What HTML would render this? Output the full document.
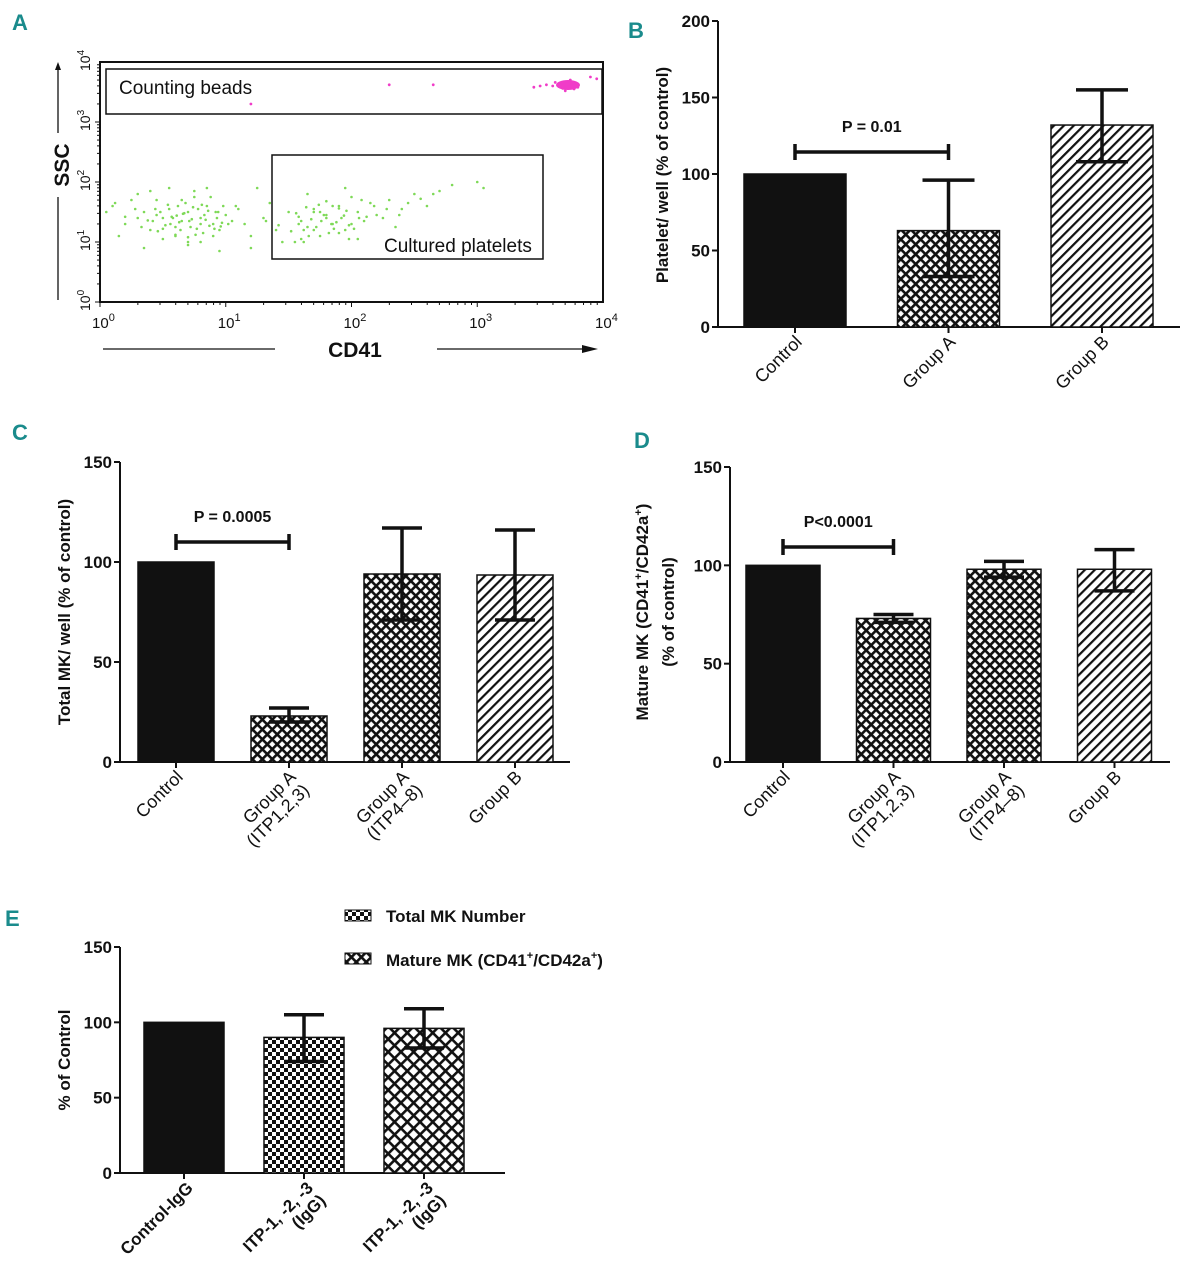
<!DOCTYPE html>
<html><head><meta charset="utf-8"><style>
html,body{margin:0;padding:0;background:#fff}
svg{display:block;font-family:"Liberation Sans",Arial,sans-serif}
</style></head><body>
<svg id="fig" width="1186" height="1280" viewBox="0 0 1186 1280">
<defs>
<pattern id="cross" width="7" height="7" patternUnits="userSpaceOnUse" patternTransform="rotate(45)">
<rect width="7" height="7" fill="#fff"/><rect width="7" height="2.6" fill="#111"/><rect width="2.6" height="7" fill="#111"/></pattern>
<pattern id="diag" width="7" height="7" patternUnits="userSpaceOnUse" patternTransform="rotate(-45)">
<rect width="7" height="7" fill="#fff"/><rect width="7" height="2.2" fill="#111"/></pattern>
<pattern id="check" width="8" height="8" patternUnits="userSpaceOnUse">
<rect width="8" height="8" fill="#fff"/><rect width="4" height="4" fill="#111"/><rect x="4" y="4" width="4" height="4" fill="#111"/></pattern>
<pattern id="cross2" width="9" height="9" patternUnits="userSpaceOnUse" patternTransform="rotate(45)">
<rect width="9" height="9" fill="#fff"/><rect width="9" height="2.6" fill="#111"/><rect width="2.6" height="9" fill="#111"/></pattern>
</defs>
<g id="root"></g>
</svg>
<script>
// Panel A data (log10 units)
const greenX=[0.1,0.2,0.3,0.35,0.4,0.45,0.5,0.55,0.6,0.62,0.65,0.7,0.72,0.75,0.8,0.82,0.85,0.9,0.92,0.95,1.0,1.05,1.1,0.5,0.6,0.7,0.8,0.9,0.55,0.65,0.75,0.85,0.45,0.58,0.68,0.78,0.88,0.98,1.15,1.2,1.3,1.35,1.4,1.5,1.55,1.6,1.65,1.7,1.75,1.8,1.85,1.9,1.95,2.0,2.05,2.1,2.15,2.2,2.3,2.4,2.5,2.6,2.7,2.8,1.6,1.7,1.8,1.9,2.0,1.75,1.85,1.95,2.05,1.65,0.05,0.15,0.25,0.3,0.4,1.25,1.45,2.25,2.35,2.45,3.0,3.05,1.2,0.35,0.7,0.95,
0.42,0.48,0.52,0.57,0.63,0.67,0.73,0.77,0.83,0.87,0.93,0.97,0.44,0.54,0.64,0.74,0.84,0.94,0.46,0.56,0.66,0.76,0.86,0.96,0.38,0.61,0.71,0.81,0.91,1.02,1.08,0.2,0.28,0.12,0.33,
1.58,1.62,1.68,1.72,1.78,1.82,1.88,1.92,1.98,2.02,1.56,1.66,1.76,1.86,1.96,2.06,1.64,1.74,1.84,1.94,1.52,1.98,2.12,2.18,2.28,2.38,1.42,1.32,1.62,1.7,1.8,1.9,2.08,1.58,2.55,2.65,0.6,0.7,0.8,0.5];
const greenY=[1.6,1.3,1.8,1.5,1.2,1.7,1.4,1.9,1.1,1.6,1.35,1.5,1.25,1.75,1.4,1.15,1.6,1.3,1.5,1.2,1.45,1.35,1.55,1.05,1.25,1.0,1.3,1.1,1.55,1.7,1.85,1.9,1.45,1.4,1.65,1.55,1.75,1.6,1.3,1.1,1.4,1.65,1.2,1.5,1.0,1.35,1.25,1.55,1.1,1.45,1.3,1.6,1.2,1.75,1.5,1.35,1.65,1.45,1.7,1.55,1.8,1.6,1.85,1.95,1.05,1.2,1.4,1.15,1.3,1.5,1.6,1.9,1.05,1.8,1.5,1.1,1.7,1.4,1.85,1.9,1.0,1.4,1.25,1.65,2.0,1.9,0.9,0.9,0.95,0.85,
1.35,1.5,1.28,1.42,1.33,1.48,1.38,1.22,1.45,1.27,1.4,1.32,1.55,1.62,1.2,1.58,1.37,1.5,1.18,1.3,1.47,1.12,1.52,1.26,1.36,1.44,1.35,1.62,1.22,1.3,1.6,1.42,1.55,1.65,1.25,
1.3,1.2,1.38,1.25,1.45,1.15,1.33,1.4,1.28,1.22,1.48,1.1,1.35,1.22,1.52,1.4,1.58,1.62,1.3,1.44,1.18,1.05,1.42,1.6,1.55,1.45,1.28,1.35,1.0,1.5,1.68,1.56,1.7,1.42,1.72,1.8,1.12,1.08,1.0,1.22];
const pinkX=[3.55,3.6,3.65,3.7,3.72,3.75,3.78,3.8,3.68,3.62,3.74,3.77,3.7,3.5,3.45,3.9,3.95,2.3,2.65,1.2];
const pinkY=[3.62,3.6,3.64,3.66,3.6,3.62,3.65,3.58,3.56,3.66,3.7,3.55,3.52,3.6,3.58,3.75,3.72,3.62,3.62,3.3];
const aTicks=["10","10","10","10","10"];
const aExp=["0","1","2","3","4"];
// Panel B
const bCats=[["Control"],["Group A"],["Group B"]];
const bVals=[100,63,132];
const bLo=[null,33,108];
const bHi=[null,96,155];
const bTicks=[0,50,100,150,200];
// Panel C
const cCats=[["Control"],["Group A","(ITP1,2,3)"],["Group A","(ITP4\u20138)"],["Group B"]];
const cVals=[100,23,94,93.5];
const cLo=[null,20,71,71];
const cHi=[null,27,117,116];
const cTicks=[0,50,100,150];
// Panel D
const dCats=[["Control"],["Group A","(ITP1,2,3)"],["Group A","(ITP4\u20138)"],["Group B"]];
const dVals=[100,73,98,98];
const dLo=[null,71,94,87];
const dHi=[null,75,102,108];
const dTicks=[0,50,100,150];
// Panel E
const eCats=[["Control-IgG"],["ITP-1, -2, -3","(IgG)"],["ITP-1, -2, -3","(IgG)"]];
const eVals=[100,90,96];
const eLo=[null,74,83];
const eHi=[null,105,109];
const eTicks=[0,50,100,150];

const NS="http://www.w3.org/2000/svg";
const root=document.getElementById('root');
function mk(tag,attrs,parent,txt){const e=document.createElementNS(NS,tag);for(const k in attrs)e.setAttribute(k,attrs[k]);if(txt!==undefined)e.textContent=txt;(parent||root).appendChild(e);return e;}

[["A",12,30],["B",628,38],["C",12,440],["D",634,448],["E",5,926]].forEach(l=>{
 const t=mk('text',{x:l[1],y:l[2],'font-size':22,'font-weight':'bold',fill:'#1a8b8c'},root,l[0]);
 
 
});

// ---- Panel A ----
const ga=mk('g',{});


const ax0=100,ax1=603,ay0=302,ay1=62;
const lx=v=>ax0+(ax1-ax0)*v/4, ly=v=>ay0-(ay0-ay1)*v/4;
mk('rect',{x:ax0,y:ay1,width:ax1-ax0,height:ay0-ay1,fill:'none',stroke:'#111','stroke-width':2},ga);
for(let d=0;d<4;d++)for(let m=1;m<10;m++){const v=d+Math.log10(m);
 mk('line',{x1:lx(v),x2:lx(v),y1:ay0,y2:ay0+(m==1?5:3),stroke:'#111'},ga);
 mk('line',{x1:ax0,x2:ax0-(m==1?5:3),y1:ly(v),y2:ly(v),stroke:'#111'},ga);}
aTicks.forEach((t,i)=>{
 const tx=mk('text',{x:lx(i)-8,y:ay0+26,'font-size':15,fill:'#111'},ga,t);
 mk('tspan',{dy:-7,'font-size':11},tx,aExp[i]);
 const ty=mk('text',{transform:`translate(${ax0-10},${ly(i)+9}) rotate(-90)`,'font-size':14,fill:'#111'},ga,t);
 mk('tspan',{dy:-6,'font-size':10},ty,aExp[i]);
});
greenX.forEach((x,i)=>{const c=mk('circle',{cx:lx(x),cy:ly(greenY[i]),r:1.3,fill:'#7ed957'},ga);
 });
pinkX.forEach((x,i)=>{const c=mk('circle',{cx:lx(x),cy:ly(pinkY[i]),r:1.4,fill:'#f03cc8'},ga);
 });
mk('ellipse',{cx:568,cy:85,rx:12,ry:5,fill:'#f03cc8'},ga);
const g1=mk('rect',{x:106,y:69,width:496,height:45,fill:'none',stroke:'#111','stroke-width':1.5},ga);

mk('text',{x:119,y:94,'font-size':19,fill:'#111'},ga,'Counting beads');
const g2=mk('rect',{x:272,y:155,width:271,height:104,fill:'none',stroke:'#111','stroke-width':1.5},ga);

mk('text',{x:384,y:252,'font-size':19,fill:'#111'},ga,'Cultured platelets');
mk('text',{x:355,y:357,'font-size':21,'font-weight':'bold','text-anchor':'middle',fill:'#111'},ga,'CD41');
mk('line',{x1:103,x2:275,y1:349,y2:349,stroke:'#111','stroke-width':1.3},ga);
mk('line',{x1:437,x2:590,y1:349,y2:349,stroke:'#111','stroke-width':1.3},ga);
mk('polygon',{points:'582,345 598,349 582,353',fill:'#111'},ga);
mk('text',{transform:'translate(69,165) rotate(-90)','font-size':21,'font-weight':'bold','text-anchor':'middle',fill:'#111'},ga,'SSC');
mk('line',{x1:58,x2:58,y1:300,y2:197,stroke:'#111','stroke-width':1.3},ga);
mk('line',{x1:58,x2:58,y1:133,y2:68,stroke:'#111','stroke-width':1.3},ga);
mk('polygon',{points:'55,70 58,62 61,70',fill:'#111'},ga);

function barPanel(o){
 const g=mk('g',{});
 
 
 const sy=v=>o.y0-(o.y0-o.yTop)*v/o.max;
 mk('line',{x1:o.ax,x2:o.ax,y1:o.y0,y2:o.yTop,stroke:'#111','stroke-width':2},g);
 mk('line',{x1:o.ax,x2:o.xEnd,y1:o.y0,y2:o.y0,stroke:'#111','stroke-width':2},g);
 o.ticks.forEach(t=>{
  mk('line',{x1:o.ax-6,x2:o.ax,y1:sy(t),y2:sy(t),stroke:'#111','stroke-width':2},g);
  const tl=mk('text',{x:o.ax-8,y:sy(t)+6,'font-size':17,'font-weight':'bold','text-anchor':'end',fill:'#111'},g,String(t));
  
 });
 o.vals.forEach((v,i)=>{
  const cx=o.x0+i*o.step;
  const b=mk('rect',{x:cx-o.bw/2,y:sy(v),width:o.bw,height:o.y0-sy(v),fill:o.fills[i],stroke:'#111','stroke-width':1.5},g);
  
  
  if(o.lo[i]!=null){
   mk('line',{x1:cx,x2:cx,y1:sy(o.hi[i]),y2:sy(o.lo[i]),stroke:'#111','stroke-width':3.5},g);
   mk('line',{x1:cx-o.cap,x2:cx+o.cap,y1:sy(o.hi[i]),y2:sy(o.hi[i]),stroke:'#111','stroke-width':3.5},g);
   mk('line',{x1:cx-o.cap,x2:cx+o.cap,y1:sy(o.lo[i]),y2:sy(o.lo[i]),stroke:'#111','stroke-width':3.5},g);
  }
  mk('line',{x1:cx,x2:cx,y1:o.y0,y2:o.y0+6,stroke:'#111','stroke-width':2},g);
  const t=mk('text',{transform:`translate(${cx+8+(o.lblDx||0)},${o.y0+16}) rotate(-45)`,'font-size':o.lblSize||18,'font-weight':o.lblBold?'bold':'normal','text-anchor':'end',fill:'#111'},g);
  
  
  o.cats[i].forEach((s,j)=>mk('tspan',{x:0,dy:j?'1.05em':0},t,s));
 });
 const yl=mk('g',{transform:`translate(${o.ylx},${o.yly}) rotate(-90)`},g);
 
 
 o.ylab.forEach((s,j)=>{const t=mk('text',{x:0,y:j*26,'font-size':17,'font-weight':'bold','text-anchor':'middle',fill:'#111'},yl);
  s.forEach(p=>{mk('tspan',p[1]?{dy:-6,'font-size':11}:{dy:p[2]?6:0},t,p[0]);});});
 if(o.p){
  const yb=o.p.y;
  const a=o.x0+o.p.i*o.step,b2=o.x0+o.p.j*o.step;
  const br=mk('g',{},g);
  
  
  mk('line',{x1:a,x2:b2,y1:yb,y2:yb,stroke:'#111','stroke-width':3.5},br);
  mk('line',{x1:a,x2:a,y1:yb-8,y2:yb+8,stroke:'#111','stroke-width':3.5},br);
  mk('line',{x1:b2,x2:b2,y1:yb-8,y2:yb+8,stroke:'#111','stroke-width':3.5},br);
  mk('text',{x:(a+b2)/2,y:yb-20,'font-size':16,'font-weight':'bold','text-anchor':'middle',fill:'#111'},br,o.p.t);
 }
 return g;
}
barPanel({name:'panel-b-platelet-chart',ax:718,y0:327,yTop:21,max:200,xEnd:1180,x0:795,step:153.5,bw:102,cap:26,
 vals:bVals,lo:bLo,hi:bHi,ticks:bTicks,cats:bCats,fills:['#111','url(#cross)','url(#diag)'],
 ylx:668,yly:175,ylab:[[["Platelet/ well (% of control)"]]],p:{i:0,j:1,y:152,t:'P = 0.01'}});
barPanel({name:'panel-c-total-mk-chart',ax:120,y0:762,yTop:462,max:150,xEnd:570,x0:176,step:113,bw:76,cap:20,
 vals:cVals,lo:cLo,hi:cHi,ticks:cTicks,cats:cCats,fills:['#111','url(#cross)','url(#cross)','url(#diag)'],
 ylx:70,yly:612,ylab:[[["Total MK/ well (% of control)"]]],p:{i:0,j:1,y:542,t:'P = 0.0005'}});
barPanel({name:'panel-d-mature-mk-chart',ax:730,y0:762,yTop:467,max:150,xEnd:1170,x0:783,step:110.5,bw:74,cap:20,
 vals:dVals,lo:dLo,hi:dHi,ticks:dTicks,cats:dCats,fills:['#111','url(#cross)','url(#cross)','url(#diag)'],
 ylx:648,yly:612,ylab:[[["Mature MK (CD41"],["+",1],["/CD42a",0,1],["+",1],[")",0,1]],[["(% of control)"]]],p:{i:0,j:1,y:547,t:'P<0.0001'}});
barPanel({name:'panel-e-igg-chart',ax:120,y0:1173,yTop:947,max:150,xEnd:505,x0:184,step:120,bw:80,cap:20,
 vals:eVals,lo:eLo,hi:eHi,ticks:eTicks,cats:eCats,fills:['#111','url(#check)','url(#cross2)'],lblBold:true,lblSize:17,lblDx:2,
 ylx:70,yly:1060,ylab:[[["% of Control"]]]});
const lg=mk('g',{});


const le1=mk('g',{},lg);


mk('rect',{x:345,y:910,width:26,height:11,fill:'url(#check)',stroke:'#111'},le1);
mk('text',{x:386,y:922,'font-size':17,'font-weight':'bold',fill:'#111'},le1,'Total MK Number');
const le2=mk('g',{},lg);


mk('rect',{x:345,y:953,width:26,height:11,fill:'url(#cross)',stroke:'#111'},le2);
const lt=mk('text',{x:386,y:966,'font-size':17,'font-weight':'bold',fill:'#111'},le2,'Mature MK (CD41');
mk('tspan',{dy:-7,'font-size':11},lt,'+');
mk('tspan',{dy:7},lt,'/CD42a');
mk('tspan',{dy:-7,'font-size':11},lt,'+');
mk('tspan',{dy:7},lt,')');
</script>
</body></html>
